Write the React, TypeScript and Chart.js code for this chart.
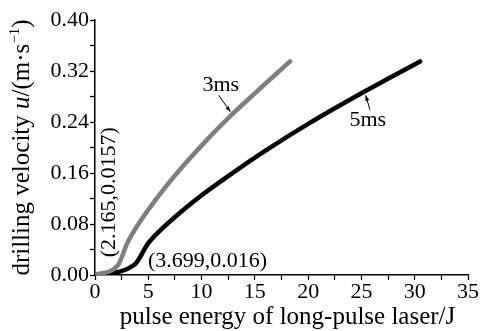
import React, { useEffect, useRef } from "react";
import { Chart, registerables } from "chart.js";

Chart.register(...registerables);

// 3 ms pulse width
const energy3ms = [0, 2.165, 3, 4, 6, 8, 10, 12.5, 15, 18.3];
const velocity3ms = [0, 0.0157, 0.049, 0.078, 0.125, 0.166, 0.203, 0.246, 0.285, 0.335];
// 5 ms pulse width
const energy5ms = [0, 3.699, 5, 6, 8, 10, 13, 16, 20, 25, 30.5];
const velocity5ms = [0, 0.016, 0.05, 0.068, 0.098, 0.125, 0.161, 0.195, 0.237, 0.285, 0.335];

const xTickLabels = ["0", "5", "10", "15", "20", "25", "30", "35"];
const yTickLabels = ["0.00", "0.08", "0.16", "0.24", "0.32", "0.40"];

const FONT = "'Liberation Serif', 'Times New Roman', serif";

const annotationPlugin = {
  id: "annotations",
  afterDraw(chart: any) {
    const ctx = chart.ctx;
    const xs = chart.scales.x;
    const ys = chart.scales.y;
    const px = (v: number) => xs.getPixelForValue(v);
    const py = (v: number) => ys.getPixelForValue(v);
    ctx.save();
    ctx.fillStyle = "#000";
    ctx.strokeStyle = "#000";
    ctx.font = `22px ${FONT}`;

    // curve labels
    ctx.textAlign = "center";
    ctx.textBaseline = "middle";
    ctx.fillText("3ms", px(11.8), py(0.298));
    ctx.fillText("5ms", px(25.6), py(0.243));

    const arrow = (x1: number, y1: number, x2: number, y2: number) => {
      const a = px(x1), b = py(y1), c = px(x2), d = py(y2);
      ctx.lineWidth = 1;
      ctx.beginPath();
      ctx.moveTo(a, b);
      ctx.lineTo(c, d);
      ctx.stroke();
      const ang = Math.atan2(d - b, c - a);
      ctx.beginPath();
      ctx.moveTo(c, d);
      ctx.lineTo(c - 6 * Math.cos(ang - 0.35), d - 6 * Math.sin(ang - 0.35));
      ctx.lineTo(c - 6 * Math.cos(ang + 0.35), d - 6 * Math.sin(ang + 0.35));
      ctx.closePath();
      ctx.fill();
    };
    arrow(11.6, 0.282, 12.7, 0.256);
    arrow(25.8, 0.259, 25.4, 0.282);

    // point labels
    ctx.textAlign = "left";
    ctx.fillText("(3.699,0.016)", px(4.97), py(0.021));
    ctx.save();
    ctx.translate(px(1.3), py(0.13));
    ctx.rotate(-Math.PI / 2);
    ctx.textAlign = "center";
    ctx.fillText("(2.165,0.0157)", 0, 0);
    ctx.restore();

    // axis titles
    ctx.textAlign = "center";
    ctx.textBaseline = "middle";
    ctx.font = `25px ${FONT}`;
    ctx.fillText(
      "pulse energy of long-pulse laser/J",
      (chart.chartArea.left + chart.chartArea.right) / 2 + 6,
      chart.height - 14
    );

    // y title with italic u
    const parts = [
      { t: "drilling velocity ", f: `25px ${FONT}` },
      { t: "u", f: `italic 25px ${FONT}` },
      { t: "/(m·s", f: `25px ${FONT}` },
      { t: "−1", f: `15px ${FONT}`, sup: true },
      { t: ")", f: `25px ${FONT}` },
    ];
    let total = 0;
    for (const p of parts) {
      ctx.font = p.f;
      total += ctx.measureText(p.t).width;
    }
    ctx.save();
    ctx.translate(22, (chart.chartArea.top + chart.chartArea.bottom) / 2);
    ctx.rotate(-Math.PI / 2);
    ctx.textAlign = "left";
    let cx = -total / 2;
    for (const p of parts) {
      ctx.font = p.f;
      ctx.fillText(p.t, cx, (p as any).sup ? -7 : 0);
      cx += ctx.measureText(p.t).width;
    }
    ctx.restore();
    ctx.restore();
  },
};

export default function App() {
  const ref = useRef<HTMLCanvasElement | null>(null);
  useEffect(() => {
    if (!ref.current) return;
    const data3 = energy3ms.map((x, i) => ({ x, y: velocity3ms[i] }));
    const data5 = energy5ms.map((x, i) => ({ x, y: velocity5ms[i] }));
    const chart = new Chart(ref.current, {
      type: "scatter",
      data: {
        datasets: [
          {
            label: "3ms",
            data: data3,
            showLine: true,
            borderColor: "#7f7f7f",
            borderWidth: 4.5,
            pointRadius: 0,
            cubicInterpolationMode: "monotone",
            borderCapStyle: "round",
          },
          {
            label: "5ms",
            data: data5,
            showLine: true,
            borderColor: "#000000",
            borderWidth: 4.5,
            pointRadius: 0,
            cubicInterpolationMode: "monotone",
            borderCapStyle: "round",
          },
        ],
      },
      options: {
        animation: false,
        responsive: false,
        layout: { padding: { top: 20, right: 13, left: 0, bottom: 0 } },
        plugins: { legend: { display: false }, tooltip: { enabled: false } },
        scales: {
          x: {
            type: "linear",
            min: 0,
            max: 35,
            afterFit: (s: any) => {
              s.height = 56;
            },
            afterBuildTicks: (s: any) => {
              const t: any[] = [];
              for (let v = 0; v <= 35.001; v += 2.5) t.push({ value: v });
              s.ticks = t;
            },
            ticks: {
              autoSkip: false,
              maxRotation: 0,
              padding: -1,
              color: "#000",
              font: { family: FONT, size: 22 },
              callback: (v: any) => {
                const i = Math.round(Number(v) / 5);
                return Math.abs(Number(v) - i * 5) < 1e-6 ? xTickLabels[i] : "";
              },
            },
            grid: {
              drawOnChartArea: false,
              drawTicks: true,
              tickLength: 5,
              tickColor: "#000",
              tickWidth: 1.3,
            },
            border: { display: true, color: "#000", width: 1.5 },
          },
          y: {
            type: "linear",
            min: 0,
            max: 0.4,
            afterFit: (s: any) => {
              s.width = 95;
            },
            afterBuildTicks: (s: any) => {
              const t: any[] = [];
              for (let k = 0; k <= 10; k++) t.push({ value: k * 0.04 });
              s.ticks = t;
            },
            ticks: {
              autoSkip: false,
              padding: 1,
              color: "#000",
              font: { family: FONT, size: 22 },
              callback: (v: any) => {
                const k = Math.round(Number(v) / 0.04);
                return k % 2 === 0 ? yTickLabels[k / 2] : "";
              },
            },
            grid: {
              drawOnChartArea: false,
              drawTicks: true,
              tickLength: 5,
              tickColor: "#000",
              tickWidth: 1.3,
            },
            border: { display: true, color: "#000", width: 1.5 },
          },
        },
      },
      plugins: [annotationPlugin],
    });
    return () => chart.destroy();
  }, []);
  return (
    <div style={{ position: "fixed", left: 0, top: 0, width: 481, height: 331, background: "#fff" }}>
      <canvas ref={ref} width={481} height={331} style={{ width: 481, height: 331 }} />
    </div>
  );
}
